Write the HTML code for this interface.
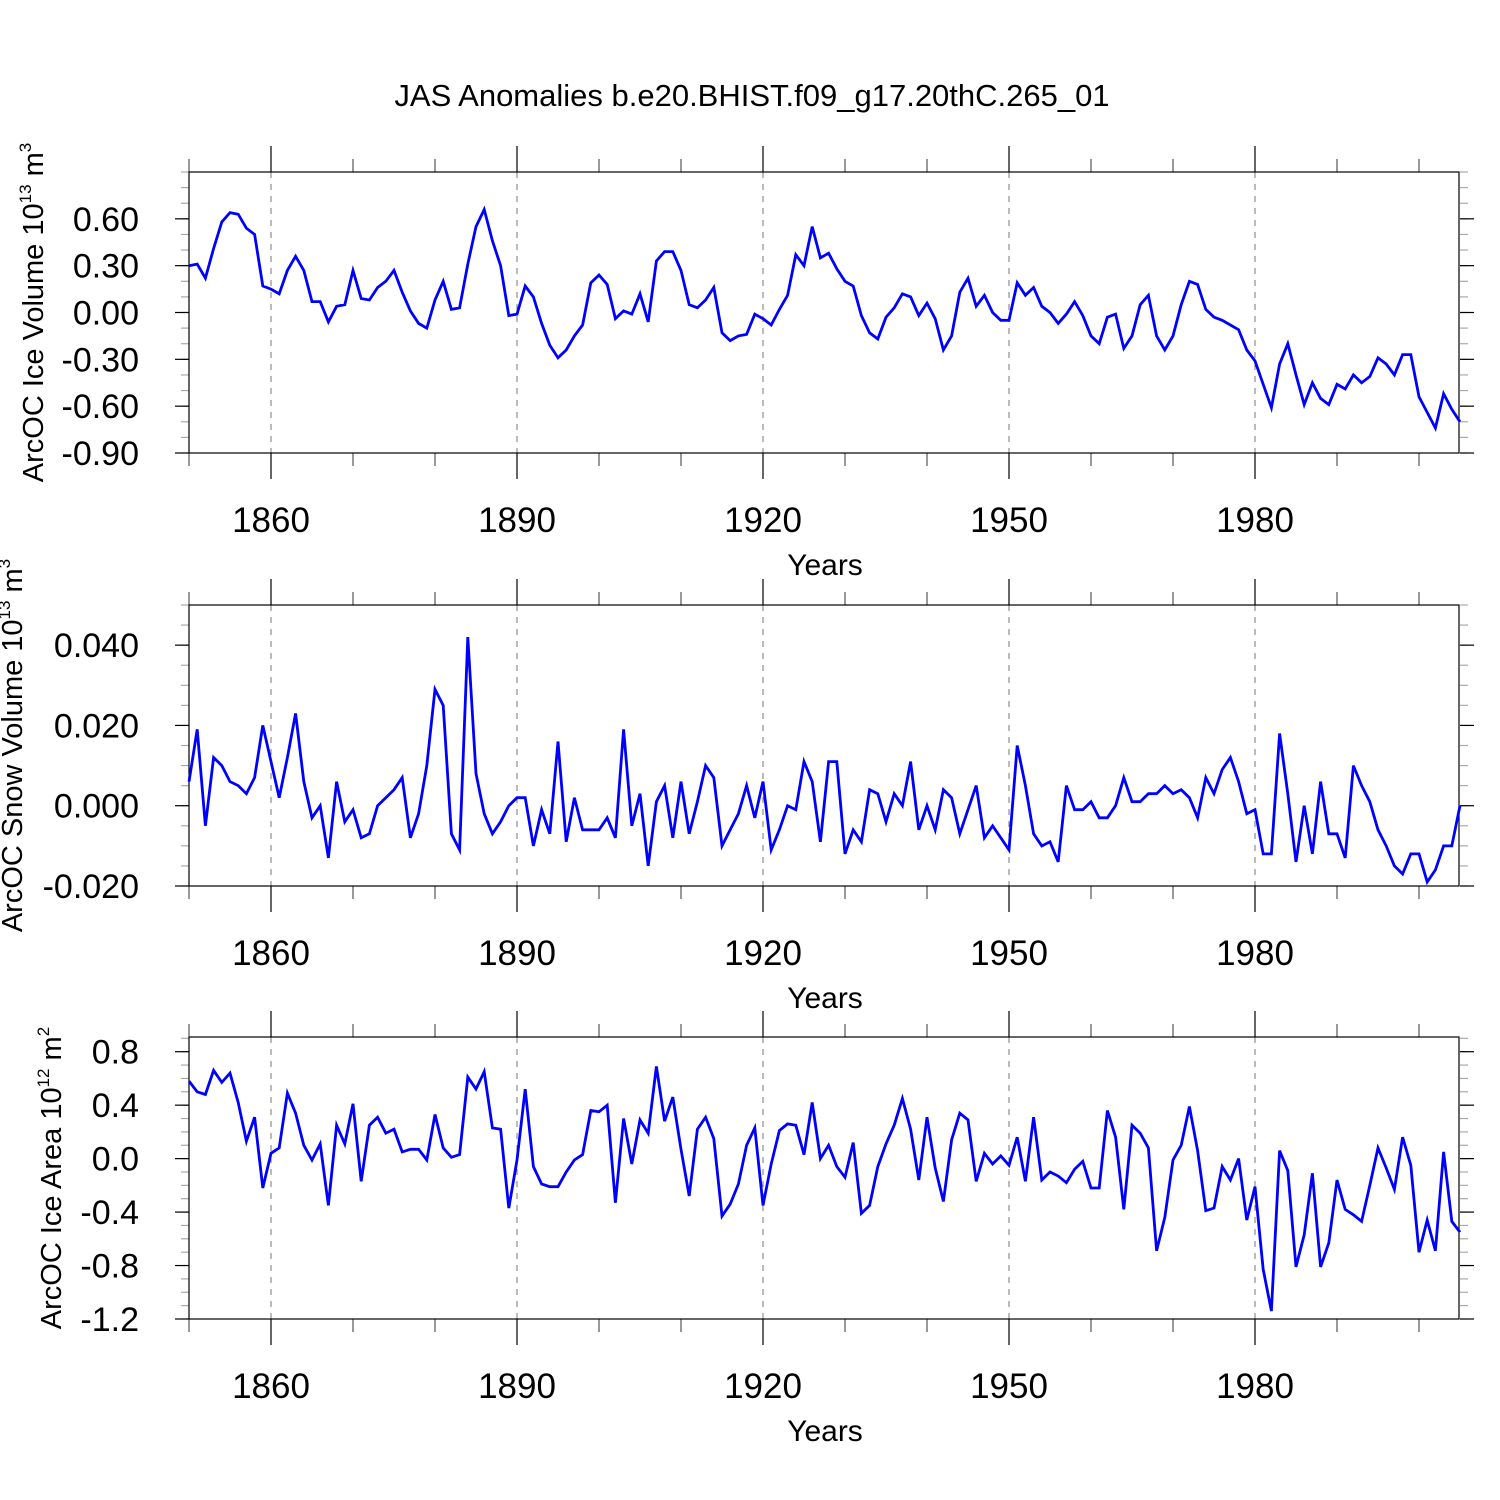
<!DOCTYPE html>
<html><head><meta charset="utf-8">
<style>html,body{margin:0;padding:0;background:#fff}svg{display:block}text{font-family:"Liberation Sans",sans-serif;fill:#000}</style>
</head><body>
<svg id="c" width="1500" height="1500" viewBox="0 0 1500 1500">
<text x="752" y="106" font-size="31" text-anchor="middle">JAS Anomalies b.e20.BHIST.f09_g17.20thC.265_01</text>
</svg>
<script>
const years = [];
for (let y = 1850; y <= 2005; y++) years.push(y);
const xTickLabels = [1860, 1890, 1920, 1950, 1980];
const iceVolume = [0.30,0.31,0.22,0.41,0.58,0.64,0.63,0.54,0.50,0.17,0.15,0.12,0.27,0.36,0.27,0.07,0.07,-0.06,0.04,0.05,0.27,0.09,0.08,0.16,0.20,0.27,0.13,0.01,-0.07,-0.10,0.08,0.20,0.02,0.03,0.31,0.55,0.66,0.46,0.30,-0.02,-0.01,0.17,0.10,-0.07,-0.21,-0.29,-0.24,-0.15,-0.08,0.19,0.24,0.18,-0.04,0.01,-0.01,0.12,-0.06,0.33,0.39,0.39,0.27,0.05,0.03,0.08,0.16,-0.13,-0.18,-0.15,-0.14,-0.01,-0.04,-0.08,0.02,0.11,0.37,0.30,0.55,0.35,0.38,0.28,0.20,0.17,-0.02,-0.13,-0.17,-0.03,0.03,0.12,0.10,-0.02,0.06,-0.04,-0.24,-0.15,0.13,0.22,0.04,0.11,0.00,-0.05,-0.05,0.19,0.11,0.16,0.04,0.00,-0.07,-0.01,0.07,-0.02,-0.15,-0.20,-0.03,-0.01,-0.23,-0.15,0.05,0.11,-0.15,-0.24,-0.15,0.05,0.20,0.18,0.02,-0.03,-0.05,-0.08,-0.11,-0.24,-0.31,-0.46,-0.61,-0.33,-0.20,-0.40,-0.59,-0.45,-0.55,-0.59,-0.46,-0.49,-0.40,-0.45,-0.41,-0.29,-0.33,-0.40,-0.27,-0.27,-0.54,-0.64,-0.74,-0.52,-0.62,-0.70];
const snowVolume = [0.006,0.019,-0.005,0.012,0.010,0.006,0.005,0.003,0.007,0.020,0.011,0.002,0.012,0.023,0.006,-0.003,0.000,-0.013,0.006,-0.004,-0.001,-0.008,-0.007,0.000,0.002,0.004,0.007,-0.008,-0.002,0.010,0.029,0.025,-0.007,-0.011,0.042,0.008,-0.002,-0.007,-0.004,0.000,0.002,0.002,-0.010,-0.001,-0.007,0.016,-0.009,0.002,-0.006,-0.006,-0.006,-0.003,-0.008,0.019,-0.005,0.003,-0.015,0.001,0.005,-0.008,0.006,-0.007,0.001,0.010,0.007,-0.010,-0.006,-0.002,0.005,-0.003,0.006,-0.011,-0.006,0.000,-0.001,0.011,0.006,-0.009,0.011,0.011,-0.012,-0.006,-0.009,0.004,0.003,-0.004,0.003,0.000,0.011,-0.006,0.000,-0.006,0.004,0.002,-0.007,-0.001,0.005,-0.008,-0.005,-0.008,-0.011,0.015,0.005,-0.007,-0.010,-0.009,-0.014,0.005,-0.001,-0.001,0.001,-0.003,-0.003,0.000,0.007,0.001,0.001,0.003,0.003,0.005,0.003,0.004,0.002,-0.003,0.007,0.003,0.009,0.012,0.006,-0.002,-0.001,-0.012,-0.012,0.018,0.003,-0.014,0.000,-0.012,0.006,-0.007,-0.007,-0.013,0.010,0.005,0.001,-0.006,-0.010,-0.015,-0.017,-0.012,-0.012,-0.019,-0.016,-0.010,-0.010,0.000];
const iceArea = [0.58,0.50,0.48,0.66,0.57,0.64,0.42,0.13,0.31,-0.22,0.04,0.08,0.49,0.34,0.10,-0.01,0.11,-0.35,0.25,0.11,0.41,-0.17,0.25,0.31,0.19,0.22,0.05,0.07,0.07,-0.01,0.33,0.08,0.01,0.03,0.61,0.52,0.65,0.23,0.22,-0.37,-0.01,0.52,-0.06,-0.19,-0.21,-0.21,-0.10,-0.01,0.03,0.36,0.35,0.40,-0.33,0.30,-0.04,0.29,0.19,0.69,0.28,0.46,0.07,-0.28,0.22,0.31,0.15,-0.43,-0.34,-0.19,0.10,0.23,-0.35,-0.04,0.21,0.26,0.25,0.03,0.42,0.00,0.10,-0.06,-0.14,0.12,-0.41,-0.35,-0.06,0.11,0.25,0.45,0.22,-0.16,0.31,-0.07,-0.32,0.14,0.34,0.29,-0.17,0.04,-0.04,0.02,-0.05,0.16,-0.17,0.31,-0.16,-0.10,-0.13,-0.18,-0.08,-0.02,-0.22,-0.22,0.36,0.16,-0.38,0.25,0.19,0.08,-0.69,-0.44,-0.01,0.10,0.39,0.06,-0.39,-0.37,-0.06,-0.16,0.00,-0.46,-0.21,-0.83,-1.14,0.06,-0.09,-0.81,-0.57,-0.11,-0.81,-0.63,-0.16,-0.38,-0.42,-0.47,-0.20,0.08,-0.07,-0.23,0.16,-0.05,-0.70,-0.46,-0.69,0.05,-0.47,-0.55];
const p1Ticks = [0.6,0.3,0,-0.3,-0.6,-0.9];
const p1Labels = ["0.60","0.30","0.00","-0.30","-0.60","-0.90"];
const p2Ticks = [0.04,0.02,0,-0.02];
const p2Labels = ["0.040","0.020","0.000","-0.020"];
const p3Ticks = [0.8,0.4,0,-0.4,-0.8,-1.2];
const p3Labels = ["0.8","0.4","0.0","-0.4","-0.8","-1.2"];

const svg = document.getElementById('c');
const NS = 'http://www.w3.org/2000/svg';
function mk(tag, attrs, parent) {
  const e = document.createElementNS(NS, tag);
  for (const k in attrs) e.setAttribute(k, attrs[k]);
  (parent || svg).appendChild(e);
  return e;
}
const X0 = 189, X1 = 1460, YR0 = 1850, YR1 = 2005;
function xs(yr) { return X0 + (yr - YR0) / (YR1 - YR0) * (X1 - X0); }

function panel(name, top, bot, vmin, vmax, ticks, labels, minorStep, data, titleParts, titleX) {
  const g = mk('g', {});
  
  
  const ys = v => bot - (v - vmin) / (vmax - vmin) * (bot - top);
  xTickLabels.forEach(yr => {
    const l = mk('line', {x1: xs(yr), x2: xs(yr), y1: top, y2: bot, stroke: '#777', 'stroke-width': 1, 'stroke-dasharray': '6,6'}, g);
    
    
  });
  for (let yr = 1850; yr <= 2000; yr += 10) {
    const major = (yr - 1860) % 30 === 0;
    const len = major ? 26 : 13;
    const x = xs(yr);
    mk('line', {x1: x, x2: x, y1: bot, y2: bot + len, stroke: major ? '#000' : '#555', 'stroke-width': 1.2}, g);
    mk('line', {x1: x, x2: x, y1: top, y2: top - len, stroke: major ? '#000' : '#555', 'stroke-width': 1.2}, g);
  }
  const n = Math.round((vmax - vmin) / minorStep);
  for (let i = 0; i <= n + 1; i++) {
    const v = ticks[ticks.length - 1] + i * minorStep;
    if (v > vmax + 1e-9) break;
    const y = ys(v);
    mk('line', {x1: X0 - 8, x2: X0, y1: y, y2: y, stroke: '#aaa', 'stroke-width': 1.2}, g);
    mk('line', {x1: X1, x2: X1 + 8, y1: y, y2: y, stroke: '#aaa', 'stroke-width': 1.2}, g);
  }
  ticks.forEach((v, i) => {
    const y = ys(v);
    mk('line', {x1: X0 - 14, x2: X0, y1: y, y2: y, stroke: '#000', 'stroke-width': 1.2}, g);
    mk('line', {x1: X1, x2: X1 + 14, y1: y, y2: y, stroke: '#000', 'stroke-width': 1.2}, g);
    const t = mk('text', {x: 139, y: y + 12, 'font-size': 34, 'text-anchor': 'end'}, g);
    t.textContent = labels[i];
    
    
  });
  const r = mk('rect', {x: X0, y: top, width: X1 - X0 - 1, height: bot - top, fill: 'none', stroke: '#000', 'stroke-width': 1.2}, g);
  
  
  const pts = data.map((v, i) => xs(years[i]).toFixed(1) + ',' + ys(v).toFixed(1)).join(' ');
  const pl = mk('polyline', {points: pts, fill: 'none', stroke: '#0000ff', 'stroke-width': 2.8, 'stroke-linejoin': 'miter'}, g);
  
  
  xTickLabels.forEach(yr => {
    const t = mk('text', {x: xs(yr), y: bot + 79, 'font-size': 35, 'text-anchor': 'middle'}, g);
    t.textContent = yr;
    
    
  });
  const xt = mk('text', {x: 825, y: bot + 122, 'font-size': 30, 'text-anchor': 'middle'}, g);
  xt.textContent = 'Years';
  
  
  const cy = (top + bot) / 2;
  const yt = mk('text', {x: 0, y: 0, 'font-size': 29, 'text-anchor': 'middle', transform: 'translate(' + titleX + ',' + cy + ') rotate(-90)'}, g);
  
  
  const s1 = mk('tspan', {}, yt); s1.textContent = titleParts[0];
  const s2 = mk('tspan', {dy: -12, 'font-size': 17}, yt); s2.textContent = titleParts[1];
  const s3 = mk('tspan', {dy: 12}, yt); s3.textContent = titleParts[2];
  const s4 = mk('tspan', {dy: -12, 'font-size': 17}, yt); s4.textContent = titleParts[3];
}
panel('ice-volume', 172, 453, -0.9, 0.9, p1Ticks, p1Labels, 0.1, iceVolume, ['ArcOC Ice Volume 10', '13', ' m', '3'], 43);
panel('snow-volume', 605, 886, -0.02, 0.05, p2Ticks, p2Labels, 0.005, snowVolume, ['ArcOC Snow Volume 10', '13', ' m', '3'], 22);
panel('ice-area', 1037, 1319, -1.2, 0.91, p3Ticks, p3Labels, 0.1, iceArea, ['ArcOC Ice Area 10', '12', ' m', '2'], 61);
</script>
</body></html>
